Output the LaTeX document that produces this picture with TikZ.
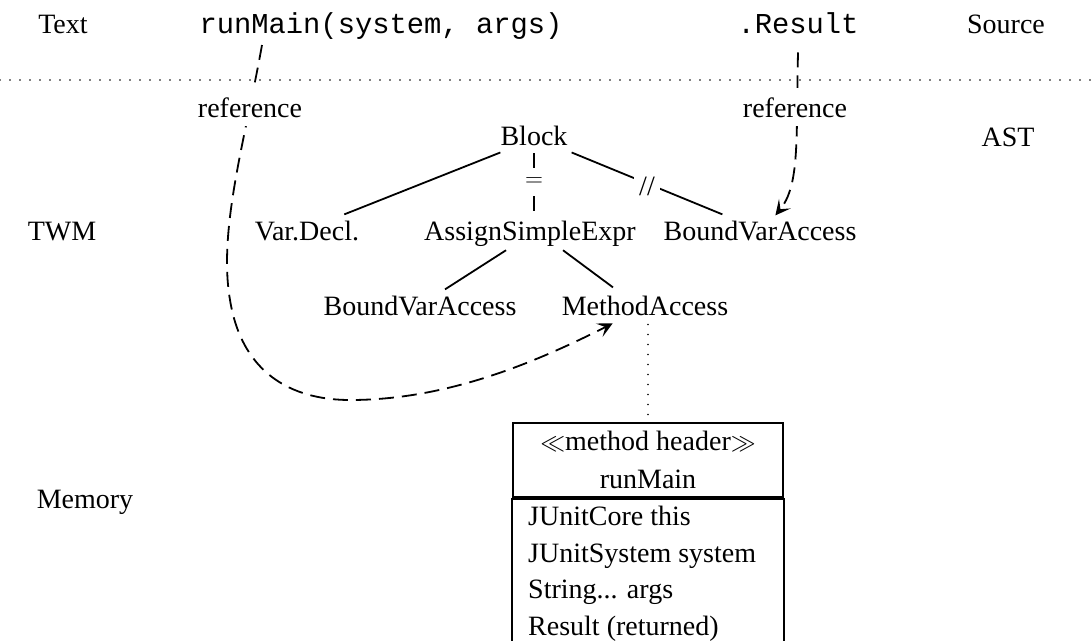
\documentclass[tikz,border=0pt]{standalone}
\usepackage{fontspec}
\setmainfont{Liberation Serif}
\setmonofont{Liberation Mono}
\usetikzlibrary{arrows.meta}
\begin{document}
\begin{tikzpicture}[x=1pt,y=1pt,
  lbl/.style={font=\fontsize{28}{34}\selectfont, inner sep=0pt, anchor=base},
  code/.style={font=\fontsize{28.8}{34}\selectfont\ttfamily, inner sep=0pt, anchor=base},
  reflbl/.style={lbl, fill=white, inner xsep=2pt, inner ysep=9pt},
  treeedge/.style={line width=1.8pt},
  edgemark/.style={font=\fontsize{28}{34}\selectfont, fill=white, inner xsep=5pt, inner ysep=0pt, minimum height=28pt},
  refarrow/.style={line width=1.8pt, dash pattern=on 15pt off 8pt,
    -{Stealth[length=15pt,width=15pt,inset=7pt]}},
  dots/.style={line width=1.8pt, line cap=round, dash pattern=on 0pt off 10pt},
  hdrbox/.style={draw, line width=2pt, font=\fontsize{28}{38}\selectfont, align=center,
    minimum width=270pt, minimum height=74pt, inner sep=0pt},
  bodytext/.style={font=\fontsize{28}{36.5}\selectfont, align=left, anchor=north west,
    inner xsep=16pt, inner ysep=4pt}]
\useasboundingbox (0,0) rectangle (1092,-641);

% layer titles
\node[lbl] (ltext)   at (63,-33)   {Text};
\node[lbl] (lsource) at (1006,-33) {Source};
\node[lbl] (last)    at (1008,-146) {AST};
\node[lbl] (ltwm)    at (62,-240)  {TWM};
\node[lbl] (lmem)    at (85,-508)  {Memory};

% source text
\node[code] (rm)  at (381,-33) {runMain(system, args)};
\node[code] (res) at (798,-33) {.Result};

% separator between text and tree
\coordinate (sepL) at (0,-80);
\coordinate (sepR) at (1092,-80);
\draw[dots] (sepL) -- (sepR);

% tree nodes
\node[lbl] (blk)  at (534,-145) {Block};
\node[lbl] (vd)   at (307,-240) {Var.Decl.};
\node[lbl] (ase)  at (530,-240) {AssignSimpleExpr};
\node[lbl] (bva1) at (760,-240) {BoundVarAccess};
\node[lbl] (bva2) at (420,-315) {BoundVarAccess};
\node[lbl] (ma)   at (645,-315) {MethodAccess};

% tree edges
\draw[treeedge] ([yshift=-7pt]blk.south west) -- ([shift={(-15pt,6pt)}]vd.north east);
\draw[treeedge] ([yshift=-8pt]blk.south) -- ([yshift=9pt]blk.south |- ase.north)
  node[edgemark, midway] (eq) {$=$};
\draw[treeedge] ([shift={(4pt,-7pt)}]blk.south east) -- ([shift={(59pt,6pt)}]bva1.north west)
  node[edgemark, midway, yshift=-3pt] (sl) {//};
\draw[treeedge] ([shift={(82pt,-4pt)}]ase.south west) -- ([shift={(25pt,6pt)}]bva2.north);
\draw[treeedge] ([shift={(33pt,-4pt)}]ase.south) -- ([shift={(-32pt,8pt)}]ma.north);

% method header in memory
\node[hdrbox] (hdr) at (648,-460) {$\ll$method header$\gg$\\runMain};
\draw[line width=3pt] (hdr.south west) -- (hdr.south east);
\node[bodytext] (body) at ([yshift=-4pt]hdr.south west)
  {JUnitCore this\\JUnitSystem system\\String... args\\Result (returned)};
\coordinate (boxBL) at (hdr.south west |- 0,-641);
\coordinate (boxBR) at (hdr.south east |- 0,-641);
\draw[line width=2pt] (hdr.south west) -- (boxBL);
\draw[line width=2pt] (hdr.south east) -- (boxBR);

% link from the call to its method header
\coordinate (maLink) at ([shift={(3pt,-9pt)}]ma.south);
\draw[dots] (maLink) -- (maLink |- hdr.north);

% reference arrows
\coordinate (s1) at (262,-45);
\coordinate (p1) at (230,-300);
\coordinate (p2) at (350,-400);
\coordinate (t1) at ([shift={(51pt,-8pt)}]ma.south west);
\draw[refarrow] (s1) .. controls (245,-140) and (218,-230) .. (p1)
  .. controls (243,-380) and (300,-400) .. (p2)
  .. controls (450,-400) and (540,-360) .. (t1);
\coordinate (s2) at ([yshift=-19pt]res.south);
\coordinate (t2) at ([shift={(112pt,5pt)}]bva1.north west);
\draw[refarrow] (s2) .. controls (796,-140) and (800,-185) .. (t2);

% labels on the reference arrows
\node[reflbl] (ref1) at (250,-117) {reference};
\node[reflbl] (ref2) at (795,-117) {reference};
\end{tikzpicture}
\end{document}
